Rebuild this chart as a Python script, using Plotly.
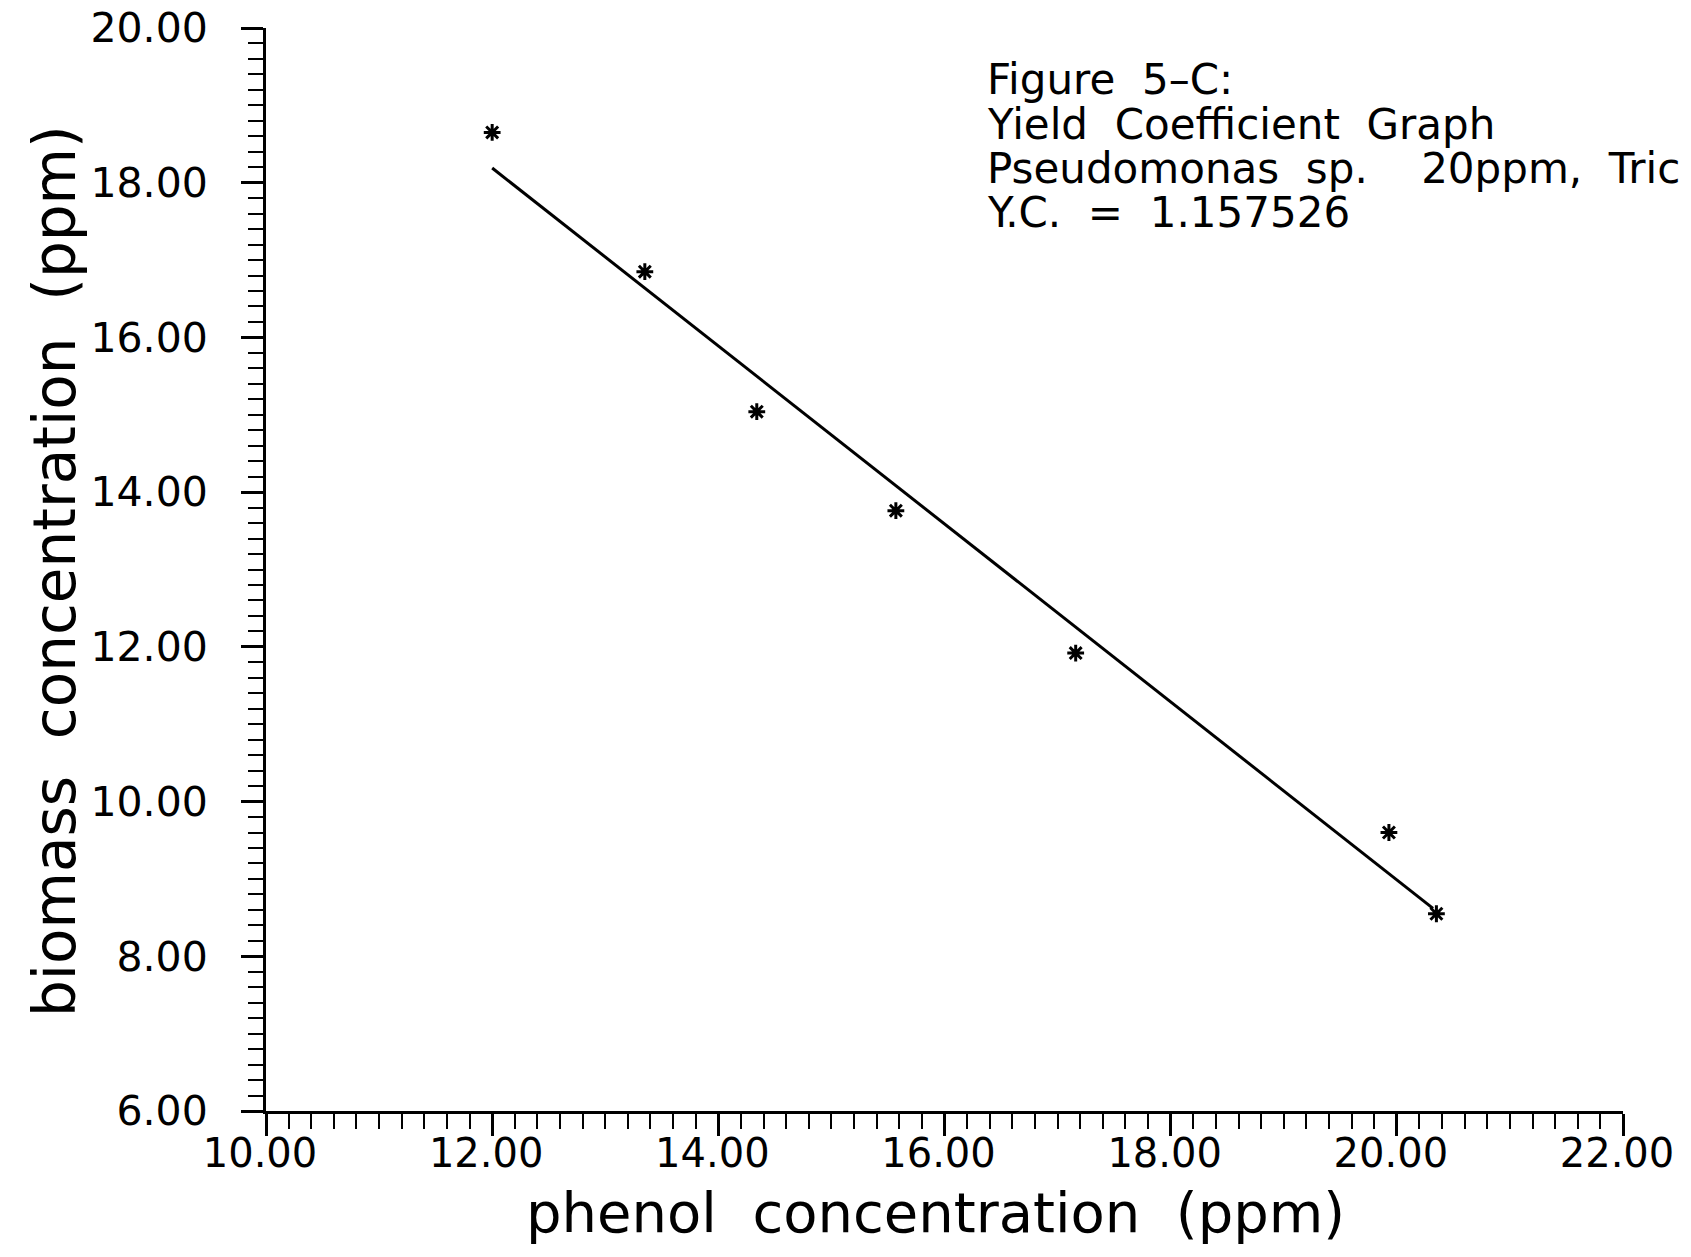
import plotly.graph_objects as go

# data
phenol = [12.00, 13.35, 14.34, 15.57, 17.16, 19.93, 20.35]
biomass = [18.65, 16.85, 15.04, 13.76, 11.92, 9.60, 8.55]
fit_x = [12.00, 20.32]
fit_y = [18.19, 8.62]

x_tickvals = [10, 12, 14, 16, 18, 20, 22]
x_ticktext = ["10.00", "12.00", "14.00", "16.00", "18.00", "20.00", "22.00"]
y_tickvals = [6, 8, 10, 12, 14, 16, 18, 20]
y_ticktext = ["6.00", "8.00", "10.00", "12.00", "14.00", "16.00", "18.00", "20.00"]

x_title = "phenol\u00a0 concentration\u00a0 (ppm)"
y_title = "biomass\u00a0 concentration\u00a0 (ppm)"

note_lines = [
    "Figure\u00a0 5\u2013C:",
    "Yield\u00a0 Coefficient\u00a0 Graph",
    "Pseudomonas\u00a0 sp.\u00a0\u00a0\u00a0 20ppm,\u00a0 Tric",
    "Y.C.\u00a0 =\u00a0 1.157526",
]

OFF = 8  # default page margin around the plot
W, H = 1691 - 2 * OFF, 1257 - 2 * OFF
L = 266 - OFF
T = 28 - OFF
R = W - (1623 - OFF)
B = H - (1111 - OFF)
plot_w = W - L - R
plot_h = H - T - B


def px_x(xf):
    return (xf - OFF - L) / plot_w


def px_y(yf):
    return (H - B - (yf - OFF)) / plot_h


FONT = "DejaVu Sans"

fig = go.Figure()
fig.add_trace(go.Scatter(
    x=fit_x, y=fit_y, mode="lines",
    line=dict(color="black", width=3),
    showlegend=False, hoverinfo="skip",
))
fig.add_trace(go.Scatter(
    x=phenol, y=biomass, mode="markers",
    marker=dict(symbol="asterisk", size=14, color="black",
                line=dict(color="black", width=3)),
    showlegend=False,
))

axis_common = dict(
    showline=True, linecolor="black", linewidth=3,
    ticks="outside", ticklen=22, tickwidth=3, tickcolor="black",
    showgrid=False, zeroline=False, automargin=False,
    ticklabeloverflow="allow",
    minor=dict(ticks="outside", ticklen=15, tickwidth=2, tickcolor="black",
               dtick=0.2, showgrid=False),
)

fig.update_xaxes(
    range=[10, 22], tickvals=x_tickvals, ticktext=x_ticktext,
    tickfont=dict(family=FONT, size=40, color="black"),
    ticklabelstandoff=-17, ticklabelshift=-6,
    **axis_common,
)
fig.update_yaxes(
    range=[6, 20], tickvals=y_tickvals, ticktext=y_ticktext,
    tickfont=dict(family=FONT, size=41, color="black"),
    ticklabelstandoff=25,
    **axis_common,
)

annotations = [
    dict(text=x_title, xref="paper", yref="paper",
         x=px_x(935), y=px_y(1212),
         xanchor="center", yanchor="middle", showarrow=False,
         font=dict(family=FONT, size=56, color="black")),
    dict(text=y_title, xref="paper", yref="paper", textangle=-90,
         x=px_x(55), y=px_y(571),
         xanchor="center", yanchor="middle", showarrow=False,
         font=dict(family=FONT, size=58, color="black")),
]

note_y_px = [79, 124, 169, 212]
for txt, ypx in zip(note_lines, note_y_px):
    annotations.append(dict(
        text=txt, xref="paper", yref="paper",
        x=px_x(985), y=px_y(ypx),
        xanchor="left", yanchor="middle", showarrow=False,
        font=dict(family=FONT, size=42, color="black"),
    ))

fig.update_layout(
    width=W, height=H,
    margin=dict(l=L, r=R, t=T, b=B, autoexpand=False),
    paper_bgcolor="white", plot_bgcolor="white",
    annotations=annotations,
    showlegend=False,
)

fig.write_html("out.html")
